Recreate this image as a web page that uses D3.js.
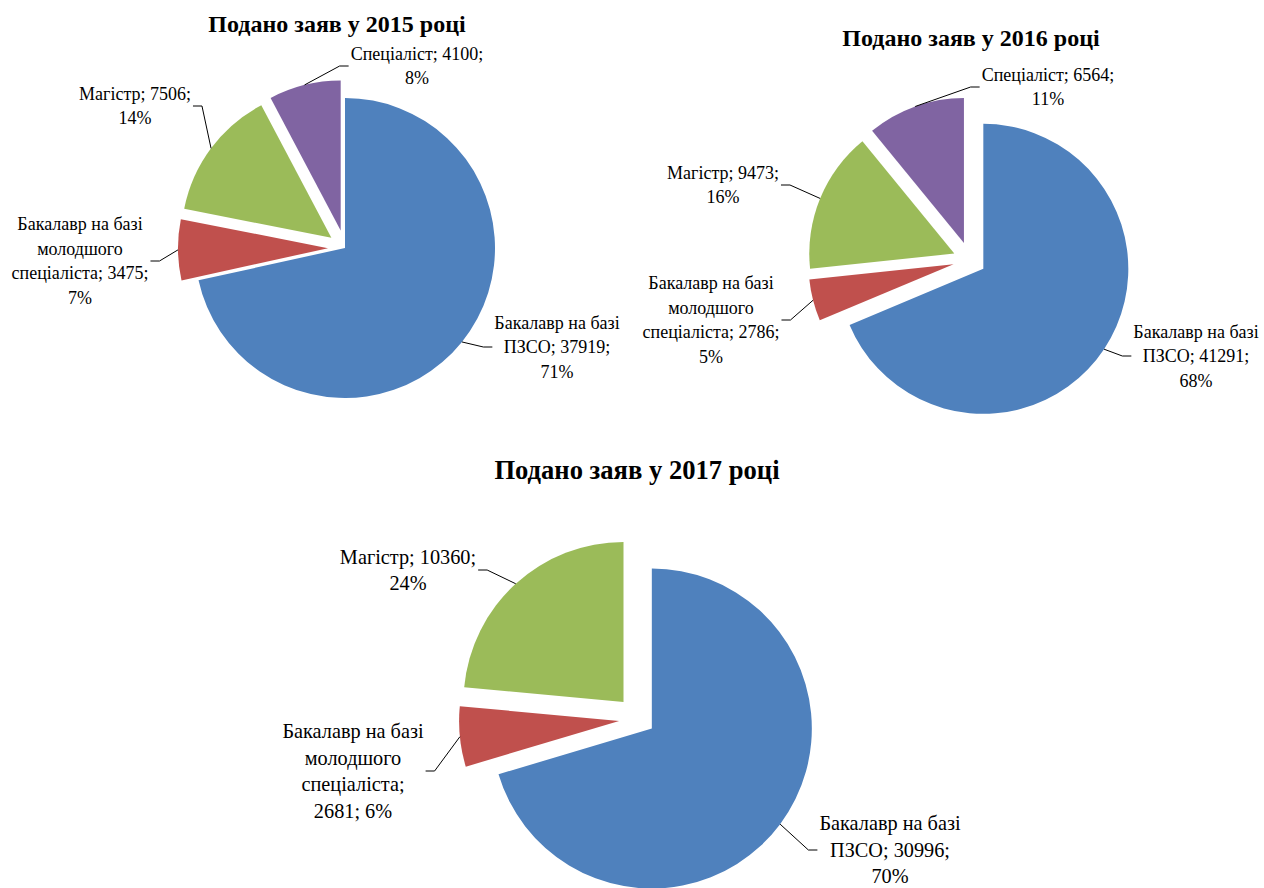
<!DOCTYPE html>
<html>
<head>
<meta charset="utf-8">
<script src="https://cdn.jsdelivr.net/npm/d3@7"></script>
<style>
  body { margin: 0; background: #fff; }
  svg { display: block; }
</style>
</head>
<body>
<div id="chart"></div>
<script>
// categories, in the order Excel draws them (clockwise from 12 o'clock)
const categories = [
  'Бакалавр на базі ПЗСО',
  'Бакалавр на базі молодшого спеціаліста',
  'Магістр',
  'Спеціаліст'
];
const colors = ['#4F81BD', '#C0504D', '#9BBB59', '#8064A2'];

const titles = ['Подано заяв у 2015 році', 'Подано заяв у 2016 році', 'Подано заяв у 2017 році'];

const values2015 = [37919, 3475, 7506, 4100];
const values2016 = [41291, 2786, 9473, 6564];
const values2017 = [30996, 2681, 10360];

// data label text, wrapped as in the picture
const labels2015 = [
  ['Бакалавр на базі', 'ПЗСО; 37919;', '71%'],
  ['Бакалавр на базі', 'молодшого', 'спеціаліста; 3475;', '7%'],
  ['Магістр; 7506;', '14%'],
  ['Спеціаліст; 4100;', '8%']
];
const labels2016 = [
  ['Бакалавр на базі', 'ПЗСО; 41291;', '68%'],
  ['Бакалавр на базі', 'молодшого', 'спеціаліста; 2786;', '5%'],
  ['Магістр; 9473;', '16%'],
  ['Спеціаліст; 6564;', '11%']
];
const labels2017 = [
  ['Бакалавр на базі', 'ПЗСО; 30996;', '70%'],
  ['Бакалавр на базі', 'молодшого', 'спеціаліста;', '2681; 6%'],
  ['Магістр; 10360;', '24%']
];

// layout only
const charts = [
  { title: titles[0], values: values2015, labels: labels2015,
    cx: 345, cy: 248, r: 150, explode: [0, 17, 17, 18],
    titleXY: [337, 32], titleSize: 24, fontSize: 18, lineH: 24.5,
    labelXY: [[557, 347], [80, 261], [135, 106], [417, 66]] },
  { title: titles[1], values: values2016, labels: labels2016,
    cx: 970, cy: 260, r: 145, explode: [16, 17, 17, 18],
    titleXY: [971, 46], titleSize: 24, fontSize: 18, lineH: 24.5,
    labelXY: [[1196, 356], [711, 320], [723, 185], [1048, 87]] },
  { title: titles[2], values: values2017, labels: labels2017,
    cx: 639, cy: 719, r: 160, explode: [16, 20, 23],
    titleXY: [637, 479], titleSize: 26.6, fontSize: 20.3, lineH: 26.5,
    labelXY: [[890, 850], [353, 771], [408, 570]] }
];

const width = 1264;
const height = 888;
const font = "'Liberation Serif', 'Times New Roman', serif";

const svg = d3.select('#chart')
  .append('svg')
  .attr('width', width)
  .attr('height', height);

charts.forEach(c => drawPie(c));

function drawPie(c) {
  const g = svg.append('g');

  const pie = d3.pie()
    .sort(null)
    .value(d => d);

  const arc = d3.arc()
    .innerRadius(0)
    .outerRadius(c.r);

  const slices = pie(c.values);

  // direction of a slice's bisector (d3 angles run clockwise from 12 o'clock)
  const dir = d => {
    const a = (d.startAngle + d.endAngle) / 2;
    return [Math.sin(a), -Math.cos(a)];
  };

  g.selectAll('path.slice')
    .data(slices)
    .enter()
    .append('path')
    .attr('class', 'slice')
    .attr('d', arc)
    .attr('fill', (d, i) => colors[i])
    .attr('transform', (d, i) => {
      const [ux, uy] = dir(d);
      return `translate(${c.cx + ux * c.explode[i]},${c.cy + uy * c.explode[i]})`;
    });

  // title
  g.append('text')
    .attr('x', c.titleXY[0])
    .attr('y', c.titleXY[1])
    .attr('text-anchor', 'middle')
    .attr('font-family', font)
    .attr('font-weight', 'bold')
    .attr('font-size', c.titleSize + 'px')
    .attr('fill', 'black')
    .text(c.title);

  // data labels with leader lines
  slices.forEach((d, i) => {
    const lines = c.labels[i];
    const [lx, ly] = c.labelXY[i];
    const n = lines.length;

    const texts = g.append('g')
      .selectAll('text')
      .data(lines)
      .enter()
      .append('text')
      .attr('x', lx)
      .attr('y', (t, k) => ly + (k - (n - 1) / 2) * c.lineH)
      .attr('dy', '0.34em')
      .attr('text-anchor', 'middle')
      .attr('font-family', font)
      .attr('font-size', c.fontSize + 'px')
      .attr('fill', 'black')
      .text(t => t);

    let w = 0;
    texts.each(function () { w = Math.max(w, this.getComputedTextLength()); });

    const [ux, uy] = dir(d);
    const px = c.cx + ux * (c.explode[i] + c.r);
    const py = c.cy + uy * (c.explode[i] + c.r);

    const side = lx > px ? -1 : 1;
    const edge = lx + side * (w / 2 + 2);
    const stub = 9;

    g.insert('path', 'g')
      .attr('d', d3.line()([[px, py], [edge + side * stub, ly], [edge, ly]]))
      .attr('fill', 'none')
      .attr('stroke', 'black')
      .attr('stroke-width', 1);
  });
}
</script>
</body>
</html>
